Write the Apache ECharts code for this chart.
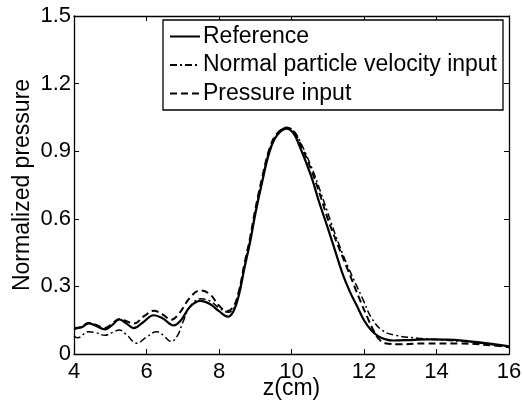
<!DOCTYPE html>
<html>
<head>
<meta charset="utf-8">
<script src="https://cdn.jsdelivr.net/npm/echarts@6/dist/echarts.min.js"></script>
<style>
  html, body { margin: 0; padding: 0; background: #fff; }
  #main { width: 523px; height: 409px; }
</style>
</head>
<body>
<div id="main"></div>
<script>
// values: z in cm, normalized pressure
var seriesNames = ["Reference", "Normal particle velocity input", "Pressure input"];

var zRef = [4.0, 4.2, 4.4, 4.6, 4.85, 5.05, 5.25, 5.45, 5.65, 5.9, 6.2, 6.45, 6.75, 6.95, 7.2, 7.48, 7.75, 8.0, 8.25,
  8.4, 8.55, 8.7, 8.85, 9.0, 9.2, 9.4, 9.6, 9.87, 10.05, 10.2, 10.54, 10.77, 11.0, 11.2, 11.4, 11.6, 11.8, 12.0, 12.2,
  12.4, 12.6, 12.8, 13.3, 13.8, 14.3, 14.8, 15.4, 16.0];
var vRef = [0.115, 0.118, 0.136, 0.126, 0.109, 0.128, 0.153, 0.135, 0.115, 0.14, 0.172, 0.158, 0.127, 0.15, 0.21, 0.236, 0.222, 0.19, 0.166,
  0.19, 0.262, 0.38, 0.49, 0.62, 0.77, 0.9, 0.97, 1.0, 0.98, 0.932, 0.79, 0.67, 0.56, 0.46, 0.36, 0.28, 0.215, 0.15, 0.105,
  0.078, 0.065, 0.06, 0.062, 0.065, 0.064, 0.058, 0.047, 0.034];

var zVel = [4.0, 4.1, 4.4, 4.6, 4.85, 5.05, 5.25, 5.45, 5.73, 6.0, 6.28, 6.45, 6.68, 6.85, 7.0, 7.2, 7.5, 7.75, 8.0, 8.25,
  8.4, 8.55, 8.7, 8.85, 9.0, 9.2, 9.4, 9.6, 9.87, 10.05, 10.2, 10.55, 10.8, 11.1, 11.3, 11.56, 11.98, 12.2, 12.5,
  12.9, 13.5, 14.2, 15.1, 16.0];
var vVel = [0.08, 0.072, 0.099, 0.095, 0.083, 0.095, 0.106, 0.085, 0.048, 0.075, 0.099, 0.085, 0.055, 0.08, 0.14, 0.21, 0.245, 0.235, 0.205, 0.185,
  0.2, 0.272, 0.39, 0.5, 0.63, 0.78, 0.91, 0.975, 1.005, 0.99, 0.955, 0.83, 0.72, 0.58, 0.49, 0.387, 0.239, 0.162, 0.105,
  0.082, 0.07, 0.062, 0.05, 0.032];

var zPre = [4.0, 4.2, 4.4, 4.6, 4.85, 5.05, 5.25, 5.45, 5.65, 5.95, 6.2, 6.45, 6.68, 6.9, 7.2, 7.48, 7.75, 8.0, 8.22,
  8.4, 8.55, 8.7, 8.85, 9.0, 9.2, 9.4, 9.6, 9.87, 10.05, 10.2, 10.55, 10.8, 11.0, 11.2, 11.52, 11.89, 12.1, 12.25,
  12.4, 12.58, 13.0, 13.7, 14.6, 15.4, 16.0];
var vPre = [0.11, 0.12, 0.138, 0.13, 0.115, 0.135, 0.155, 0.145, 0.135, 0.17, 0.192, 0.175, 0.152, 0.18, 0.25, 0.282, 0.265, 0.215, 0.19,
  0.21, 0.28, 0.4, 0.51, 0.64, 0.79, 0.915, 0.978, 1.005, 0.99, 0.948, 0.815, 0.7, 0.6, 0.515, 0.387, 0.239, 0.16, 0.108,
  0.068, 0.048, 0.043, 0.047, 0.047, 0.04, 0.03];

var xTicks = [4, 6, 8, 10, 12, 14, 16];
var yTicks = [0, 0.3, 0.6, 0.9, 1.2, 1.5];

function pairs(zs, vs) {
  return zs.map(function (z, i) { return [z, vs[i]]; });
}

var font = "Liberation Sans, Arial, Helvetica, sans-serif";
var axisCommon = {
  axisLine: { show: true, onZero: false, lineStyle: { color: "#000", width: 1.3 } },
  axisTick: { show: true, inside: true, length: 5, lineStyle: { color: "#000", width: 1 } },
  splitLine: { show: false },
};

var chart = echarts.init(document.getElementById("main"));
var option = {
  backgroundColor: "#fff",
  animation: false,
  textStyle: { fontFamily: font, color: "#000" },
  grid: { left: 74, right: 14, top: 16, bottom: 55, outerBoundsMode: "none", containLabel: false },
  legend: {
    data: seriesNames,
    orient: "vertical",
    left: 163,
    top: 20,
    padding: [5, 6, 5, 6],
    itemGap: 5.5,
    itemWidth: 30,
    itemHeight: 12,
    itemStyle: { opacity: 0 },
    backgroundColor: "#fff",
    borderColor: "#000",
    borderWidth: 1.3,
    borderRadius: 0,
    textStyle: { fontFamily: font, fontSize: 23, color: "#000", lineHeight: 22, padding: [0, 0, 0, -2] },
  },
  xAxis: [
    Object.assign({}, axisCommon, {
      type: "value",
      min: xTicks[0],
      max: xTicks[xTicks.length - 1],
      interval: 2,
      name: "z(cm)",
      nameLocation: "middle",
      nameGap: 23,
      nameMoveOverlap: false,
      nameTextStyle: { fontFamily: font, fontSize: 23, color: "#000" },
      axisLabel: { fontFamily: font, fontSize: 22, color: "#000", margin: 7 },
    }),
    Object.assign({}, axisCommon, {
      type: "value",
      position: "top",
      min: xTicks[0],
      max: xTicks[xTicks.length - 1],
      interval: 2,
      axisLabel: { show: false },
    }),
  ],
  yAxis: [
    Object.assign({}, axisCommon, {
      type: "value",
      min: yTicks[0],
      max: yTicks[yTicks.length - 1],
      interval: 0.3,
      name: "Normalized pressure",
      nameLocation: "middle",
      nameGap: 40,
      nameMoveOverlap: false,
      nameTextStyle: { fontFamily: font, fontSize: 23, color: "#000" },
      axisLabel: {
        fontFamily: font, fontSize: 22, color: "#000", margin: 3,
        formatter: function (v) { return String(+v.toFixed(1)); },
      },
    }),
    Object.assign({}, axisCommon, {
      type: "value",
      position: "right",
      min: yTicks[0],
      max: yTicks[yTicks.length - 1],
      interval: 0.3,
      axisLabel: { show: false },
    }),
  ],
  series: [
    {
      name: seriesNames[0],
      type: "line",
      data: pairs(zRef, vRef),
      smooth: 0.4,
      symbol: "none",
      z: 3,
      lineStyle: { color: "#000", width: 2.2, type: "solid" },
      itemStyle: { color: "#000" },
    },
    {
      name: seriesNames[1],
      type: "line",
      data: pairs(zVel, vVel),
      smooth: 0.4,
      symbol: "none",
      lineStyle: { color: "#000", width: 1.5, type: [7, 3, 2, 3] },
      itemStyle: { color: "#000" },
    },
    {
      name: seriesNames[2],
      type: "line",
      data: pairs(zPre, vPre),
      smooth: 0.4,
      symbol: "none",
      lineStyle: { color: "#000", width: 2, type: [7, 4] },
      itemStyle: { color: "#000" },
    },
  ],
};
chart.setOption(option);
</script>
</body>
</html>
